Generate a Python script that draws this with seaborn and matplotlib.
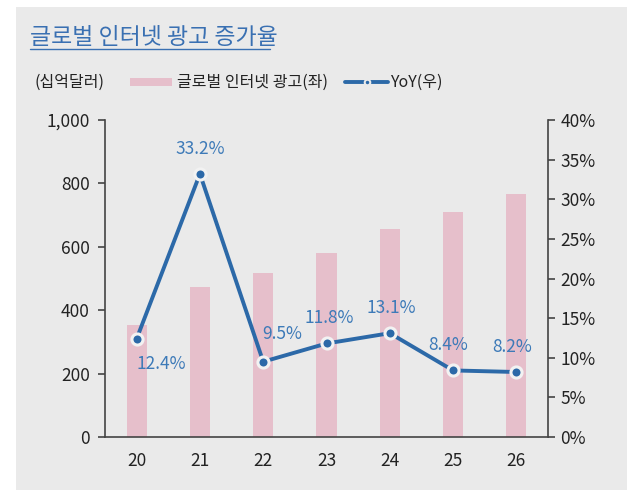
import numpy as np
import pandas as pd
import matplotlib
matplotlib.use('Agg')
import matplotlib.pyplot as plt
import seaborn as sns
from matplotlib.patches import Rectangle
from matplotlib.lines import Line2D
from matplotlib.ticker import FuncFormatter, MultipleLocator

# 데이터
years = ['20', '21', '22', '23', '24', '25', '26']
ad_spend = [353, 473, 517, 579, 655, 710, 767]   # 십억달러
yoy = [12.4, 33.2, 9.5, 11.8, 13.1, 8.4, 8.2]     # %

df = pd.DataFrame({'year': years, 'ad': ad_spend, 'yoy': yoy})

sns.set_style('white')
plt.rcParams['font.family'] = ['Noto Sans CJK KR', 'DejaVu Sans']
plt.rcParams['font.weight'] = 'light'

bar_color = '#e6bfcb'
line_color = '#2c69a8'
label_color = '#3d7ab8'
bg = '#eaeaea'
ink = '#222222'

fig = plt.figure(figsize=(6.27, 4.9), dpi=100)
fig.patch.set_facecolor('white')
fig.patches.append(Rectangle((16 / 627, 0), 1, 1 - 7 / 490, transform=fig.transFigure,
                             facecolor=bg, edgecolor='none', zorder=-10))

ax = fig.add_axes([105 / 627, 1 - 437 / 490, (548 - 105) / 627, (437 - 120) / 490])
ax.set_facecolor('none')

sns.barplot(data=df, x='year', y='ad', color=bar_color, width=0.32,
            saturation=1, ax=ax, zorder=1, edgecolor='none', linewidth=0)
ax.set_xlim(-0.5, len(years) - 0.5)
ax.set_ylim(0, 1000)
ax.yaxis.set_major_locator(MultipleLocator(200))
ax.yaxis.set_major_formatter(FuncFormatter(lambda v, p: f'{int(v):,}'))
ax.set_xlabel('')
ax.set_ylabel('')

# 오른쪽 축
ax2 = ax.twinx()
x = np.arange(len(years))
ax2.plot(x, df['yoy'], color=line_color, lw=2.8, marker='o', markersize=8,
         markerfacecolor=line_color, markeredgecolor='#f2f2f2', markeredgewidth=2.2,
         zorder=3)
ax2.set_ylim(0, 40)
ax2.yaxis.set_major_locator(MultipleLocator(5))
ax2.yaxis.set_major_formatter(FuncFormatter(lambda v, p: f'{int(v)}%'))

# 데이터 레이블
offsets = [(18, -18), (0, 18), (14, 20), (2, 18), (1, 18), (-3.5, 18), (-3, 18)]
for i, v in enumerate(yoy):
    dx, dy = offsets[i]
    ax2.annotate(f'{v}%', (i, v), xytext=(dx, dy), textcoords='offset points',
                 ha='center', va='center', color=label_color, fontsize=12.5)

# 축 스타일
for a in (ax, ax2):
    for s in a.spines.values():
        s.set_visible(False)
ax.spines['left'].set_visible(True)
ax.spines['bottom'].set_visible(True)
ax2.spines['right'].set_visible(True)
for s in (ax.spines['left'], ax.spines['bottom'], ax2.spines['right']):
    s.set_color('#444444')
    s.set_linewidth(1.2)

ax.tick_params(axis='y', direction='out', length=5, width=1.2, color='#444444',
               labelsize=12.5, labelcolor=ink, pad=6)
ax2.tick_params(axis='y', direction='out', length=5, width=1.2, color='#444444',
                labelsize=12.5, labelcolor=ink, pad=4)
# x 눈금은 카테고리 사이에
ax.set_xticks(x)
ax.set_xticklabels(years)
ax.tick_params(axis='x', which='major', length=0, labelsize=12.5, labelcolor=ink, pad=11)
ax.set_xticks(np.arange(0.5, len(years) - 0.5, 1), minor=True)
ax.tick_params(axis='x', which='minor', direction='out', length=5, width=1.2, color='#444444')

# 제목
fig.text(30 / 627, 1 - 38 / 490, '글로벌 인터넷 광고 증가율', color='#3a70b2',
         fontsize=16.5, va='center', ha='left')
fig.add_artist(Line2D([30 / 627, 270 / 627], [1 - 49 / 490, 1 - 49 / 490],
                      transform=fig.transFigure, color='#3a70b2', lw=1))

# 범례
ly = 1 - 82 / 490
fig.text(34 / 627, ly, '(십억달러)', fontsize=11.5, color=ink, va='center', ha='left')
fig.patches.append(Rectangle((130 / 627, 1 - 86 / 490), 42 / 627, 8 / 490,
                             transform=fig.transFigure, facecolor=bar_color, edgecolor='none'))
fig.text(177 / 627, ly, '글로벌 인터넷 광고(좌)', fontsize=11.5, color=ink, va='center', ha='left')
fig.add_artist(Line2D([345 / 627, 388 / 627], [ly, ly], transform=fig.transFigure,
                      color=line_color, lw=2.8))
fig.add_artist(Line2D([366.5 / 627], [ly], transform=fig.transFigure, marker='o',
                      markersize=4, color=line_color, markeredgecolor=bg, markeredgewidth=1.5))
fig.text(390 / 627, ly, 'YoY(우)', fontsize=11.5, color=ink, va='center', ha='left')

fig.savefig('out.png', dpi=100, facecolor=fig.get_facecolor())
